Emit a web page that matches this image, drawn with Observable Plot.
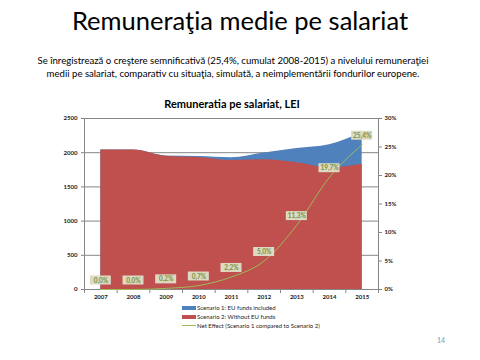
<!DOCTYPE html>
<html><head><meta charset="utf-8">
<script src="https://cdn.jsdelivr.net/npm/d3@7"></script>
<script src="https://cdn.jsdelivr.net/npm/@observablehq/plot@0.6"></script>
<style>
html,body{margin:0;padding:0;background:#fff;}
#page{position:relative;width:480px;height:360px;overflow:hidden;font-family:Lato,"Open Sans",sans-serif;}
.abs{position:absolute;white-space:nowrap;}
#title{left:0;width:480px;top:5px;text-align:center;font-size:25.5px;color:#000;}
#sub{left:0;width:466px;top:55px;text-align:center;font-size:9.6px;line-height:12.5px;color:#000;}
#ctitle{left:0;width:464px;top:97px;text-align:center;font-size:11px;font-weight:bold;color:#000;}
#chart{left:0;top:112px;}
.leg{font-size:6px;color:#222;display:flex;align-items:center;}
.sw{display:inline-block;width:14px;height:4px;margin-right:1px;}
#pg{left:437px;top:336px;font-size:7px;color:#8497b0;}
</style></head>
<body><div id="page">
<div class="abs" id="title">Remuneraţia medie pe salariat</div>
<div class="abs" id="sub">Se înregistrează o creştere semnificativă (25,4%, cumulat 2008-2015) a nivelului remuneraţiei<br>medii pe salariat, comparativ cu situaţia, simulată, a neimplementării fondurilor europene.</div>
<div class="abs" id="ctitle">Remuneratia pe salariat, LEI</div>
<div class="abs" id="chart"></div>
<div class="abs" id="legend" style="left:182px;top:303px;"></div>
<div class="abs" id="pg">14</div>
</div>
<script>
const years = [2007, 2008, 2009, 2010, 2011, 2012, 2013, 2014, 2015];
const scenario1 = [2040, 2040, 1953, 1944, 1927, 1995, 2060, 2115, 2290];
const scenario2 = [2040, 2040, 1949, 1930, 1886, 1896, 1852, 1779, 1832];
const netEffect = [0, 0, 0.2, 0.7, 2.2, 5.0, 11.3, 19.7, 25.4];
const effectLabels = ["0,0%", "0,0%", "0,2%", "0,7%", "2,2%", "5,0%", "11,3%", "19,7%", "25,4%"];
const leftTicks = [0, 500, 1000, 1500, 2000, 2500];
const rightTicks = [0, 5, 10, 15, 20, 25, 30];
const seriesNames = ["Scenario 1: EU funds included", "Scenario 2: Without EU funds", "Net Effect (Scenario 1 compared to Scenario 2)"];
const colors = ["#4f81bd", "#c0504d", "#9bbb59"];

const yMax = 2500, pMax = 30;
const toY = p => p * yMax / pMax;
const data = years.map((y, i) => ({year: y, s1: scenario1[i], s2: scenario2[i], pct: netEffect[i], label: effectLabels[i]}));
const bounds = d3.range(years.length + 1).map(i => years[0] - 0.5 + i);

const chart = Plot.plot({
  width: 480, height: 193,
  marginLeft: 84, marginRight: 102, marginTop: 6, marginBottom: 16,
  style: {fontFamily: "Lato, 'DejaVu Sans', sans-serif", fontSize: "6px", fontWeight: "bold", color: "#222", background: "transparent"},
  x: {type: "linear", domain: [bounds[0], bounds[bounds.length - 1]]},
  y: {domain: [0, yMax]},
  marks: [
    Plot.ruleY(leftTicks.slice(1), {stroke: "#868686", strokeWidth: 1}),
    Plot.areaY(data, {x: "year", y: "s1", fill: colors[0], curve: "monotone-x"}),
    Plot.areaY(data, {x: "year", y: "s2", fill: colors[1], curve: "monotone-x"}),
    Plot.ruleX([bounds[0], bounds[bounds.length - 1]], {stroke: "#868686"}),
    Plot.ruleY([0], {stroke: "#868686"}),
    Plot.axisY(leftTicks, {anchor: "left", tickSize: 3, tickPadding: 4, label: null, stroke: "#868686", tickFormat: d => String(d)}),
    Plot.axisY(rightTicks.map(toY), {anchor: "right", tickSize: 3, tickPadding: 3, label: null, stroke: "#868686", tickFormat: d => Math.round(d * pMax / yMax) + "%"}),
    Plot.axisX(bounds, {tickSize: 4, tickFormat: () => "", label: null, stroke: "#868686"}),
    Plot.axisX(years, {tickSize: 0, tickPadding: 5, label: null, tickFormat: d => String(d)}),
    Plot.lineY(data, {x: "year", y: d => toY(d.pct), stroke: colors[2], strokeWidth: 1, curve: "monotone-x"}),
    Plot.rect(data, {x1: "year", x2: "year", y1: d => toY(d.pct), y2: d => toY(d.pct), insetLeft: -10.5, insetRight: -10.5, insetTop: -4.5, insetBottom: -4.5, dy: -9, fill: "#ddd9c3"}),
    Plot.text(data, {x: "year", y: d => toY(d.pct), text: "label", dy: -9, fill: "#76923c", fontSize: 6.5, fontWeight: "bold"})
  ]
});
document.getElementById("chart").appendChild(chart);

const leg = document.getElementById("legend");
seriesNames.forEach((n, i) => {
  const row = document.createElement("div");
  row.className = "leg";
  row.style.height = "9px";
  const sw = document.createElement("span");
  sw.className = "sw";
  sw.style.background = colors[i];
  if (i === 2) { sw.style.height = "1px"; }
  row.appendChild(sw);
  row.appendChild(document.createTextNode(n));
  leg.appendChild(row);
});
</script>
</body></html>
